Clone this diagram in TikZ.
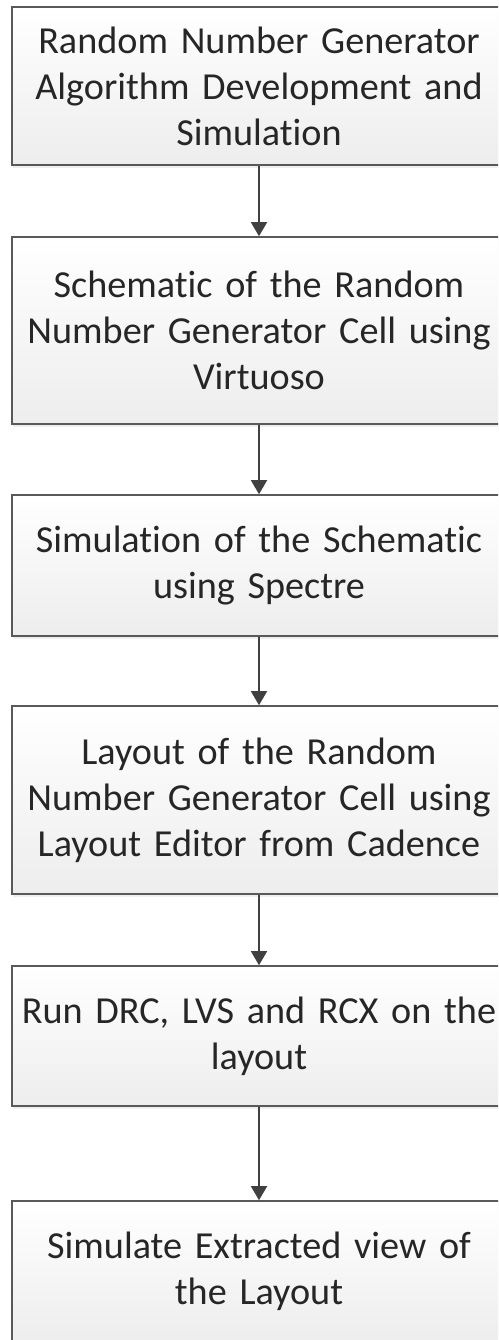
\documentclass[tikz,border=0pt]{standalone}
\usepackage{fontspec}
\setmainfont[Ligatures=NoCommon]{Carlito}
\usetikzlibrary{arrows.meta,shadows}
\tikzset{
  stage/.style={draw=black!65, line width=1.6pt, top color=white, bottom color=black!7,
    drop shadow={opacity=0.12, shadow xshift=1pt, shadow yshift=-3pt},
    text=black!85, text width=490pt, inner xsep=2pt, align=center,
    font=\fontsize{38.2}{46}\selectfont},
  flow/.style={draw=black!75, line width=1.6pt, -{Triangle[width=16pt,length=14pt]}}
}
\begin{document}
\begin{tikzpicture}[x=1pt,y=-1pt]
\clip (0,0) rectangle (498,1340);
\fill[white] (0,0) rectangle (498,1340);
\node[stage, minimum height=158pt] (algo) at (259,86) {Random Number Generator\\Algorithm Development and\\Simulation};
\node[stage, minimum height=187pt] (schem) at (259,330.5) {Schematic of the Random\\Number Generator Cell using\\Virtuoso};
\node[stage, minimum height=141pt] (spectre) at (259,565.5) {Simulation of the Schematic\\using Spectre};
\node[stage, minimum height=188pt] (layout) at (259,800) {Layout of the Random\\Number Generator Cell using\\Layout Editor from Cadence};
\node[stage, minimum height=140pt] (checks) at (259,1036) {Run DRC, LVS and RCX on the\\layout};
\node[stage, minimum height=141pt] (extract) at (259,1271.5) {Simulate Extracted view of\\the Layout};
\draw[flow] (algo) -- (schem);
\draw[flow] (schem) -- (spectre);
\draw[flow] (spectre) -- (layout);
\draw[flow] (layout) -- (checks);
\draw[flow] (checks) -- (extract);
\end{tikzpicture}
\end{document}
